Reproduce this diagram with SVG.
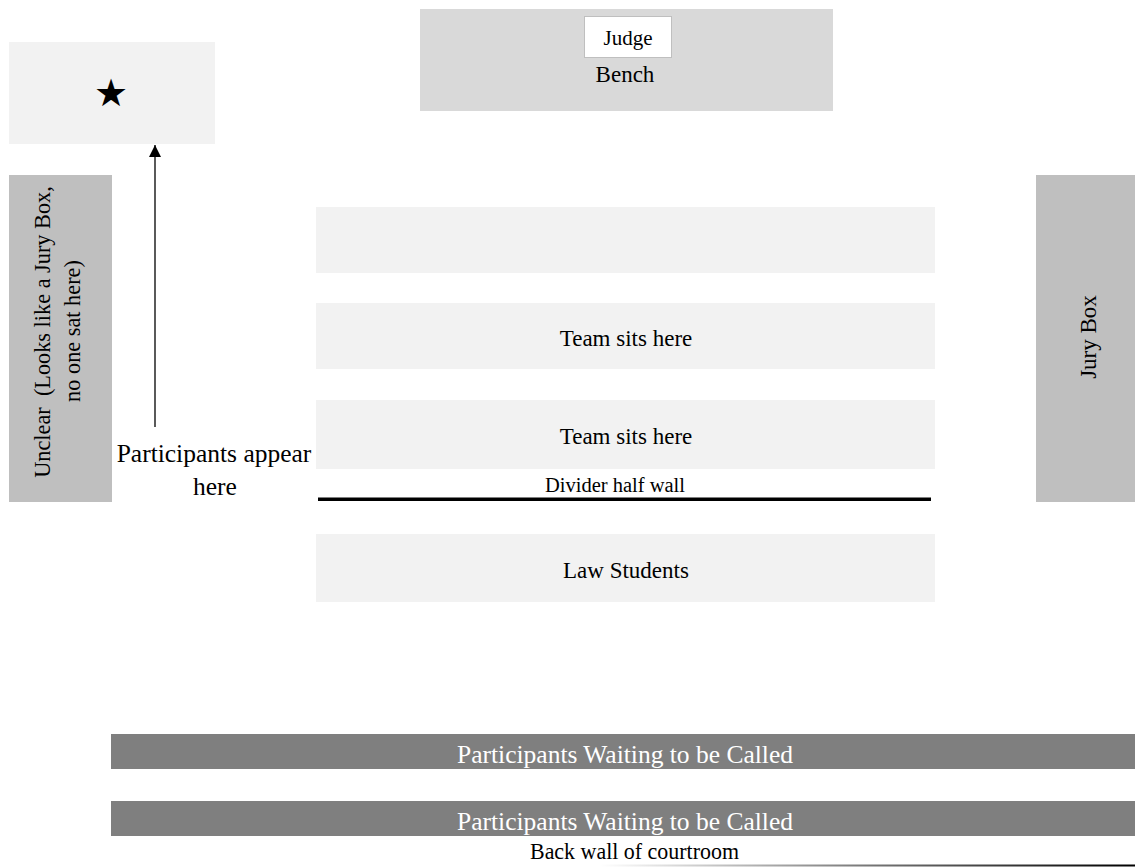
<svg xmlns="http://www.w3.org/2000/svg" width="1135" height="867" viewBox="0 0 1135 867">
<style>
text{font-family:"Liberation Serif","Times New Roman",serif;fill:#000;}
.light{fill:#f2f2f2;}
.mid{fill:#bfbfbf;}
.dark{fill:#7f7f7f;}
.t23{font-size:23px;text-anchor:middle;}
.t22{font-size:22.3px;text-anchor:middle;}
.bar{font-size:25.5px;text-anchor:middle;fill:#fff;}
</style>
<defs>
<marker id="ah" markerWidth="12" markerHeight="12" refX="12" refY="6" orient="auto" markerUnits="userSpaceOnUse" viewBox="0 0 12 12">
<path d="M0,0 L12,6 L0,12 Z" fill="#000"/>
</marker>
<linearGradient id="wallg" x1="600" y1="0" x2="1135" y2="0" gradientUnits="userSpaceOnUse">
<stop offset="0" stop-color="#fff"/>
<stop offset="0.5" stop-color="#777"/>
<stop offset="1" stop-color="#000"/>
</linearGradient>
</defs>
<rect width="1135" height="867" fill="#fff"/>

<g id="bench">
<rect x="420" y="9" width="413" height="102" fill="#d9d9d9"/>
<text class="t23" x="625" y="82">Bench</text>
</g>
<g id="judge">
<rect x="584.5" y="16.5" width="87" height="41" fill="#fff" stroke="#bfbfbf" stroke-width="1"/>
<text x="628" y="45" style="font-size:21px;text-anchor:middle">Judge</text>
</g>

<g id="star-box">
<rect class="light" x="9" y="42" width="206" height="102"/>
<text x="111" y="106" style="font-family:'DejaVu Sans',sans-serif;font-size:38px;text-anchor:middle">★</text>
</g>

<g id="unclear">
<rect class="mid" x="9" y="175" width="103" height="327"/>
<text class="t22" xml:space="preserve" transform="translate(50,332) rotate(-90)">Unclear  (Looks like a Jury Box,</text>
<text class="t22" transform="translate(80,331) rotate(-90)">no one sat here)</text>
</g>

<g id="jury-box">
<rect class="mid" x="1036" y="175" width="99" height="327"/>
<text class="t23" transform="translate(1096,337) rotate(-90)">Jury Box</text>
</g>

<g id="row1">
<rect class="light" x="316" y="207" width="619" height="66"/>
</g>
<g id="row2">
<rect class="light" x="316" y="303" width="619" height="66"/>
<text class="t23" x="626" y="346">Team sits here</text>
</g>
<g id="row3">
<rect class="light" x="316" y="400" width="619" height="69"/>
<text class="t23" x="626" y="444">Team sits here</text>
</g>
<g id="divider">
<line x1="318" y1="499.3" x2="931" y2="499.3" stroke="#000" stroke-width="3.5"/>
<text x="615" y="491.5" style="font-size:20.5px;text-anchor:middle">Divider half wall</text>
</g>
<g id="law-students">
<rect class="light" x="316" y="534" width="619" height="68"/>
<text class="t23" x="626" y="578">Law Students</text>
</g>

<g id="participants-appear">
<text x="214" y="462" style="font-size:25.5px;text-anchor:middle">Participants appear</text>
<text x="215" y="495" style="font-size:25.5px;text-anchor:middle">here</text>
</g>

<g id="waiting1">
<rect class="dark" x="111" y="734" width="1024" height="35"/>
<text class="bar" x="625" y="762.5">Participants Waiting to be Called</text>
</g>
<g id="waiting2">
<rect class="dark" x="111" y="801" width="1024" height="35"/>
<text class="bar" x="625" y="829.5">Participants Waiting to be Called</text>
</g>

<g id="back-wall">
<text x="634.5" y="858.5" textLength="209" lengthAdjust="spacingAndGlyphs" style="font-size:23px;text-anchor:middle">Back wall of courtroom</text>
<line x1="600" y1="865.5" x2="1135" y2="865.5" stroke="url(#wallg)" stroke-width="2"/>
</g>

<g id="connectors">
<line x1="155" y1="427" x2="155" y2="145" stroke="#000" stroke-width="1.3" marker-end="url(#ah)"/>
</g>
</svg>
